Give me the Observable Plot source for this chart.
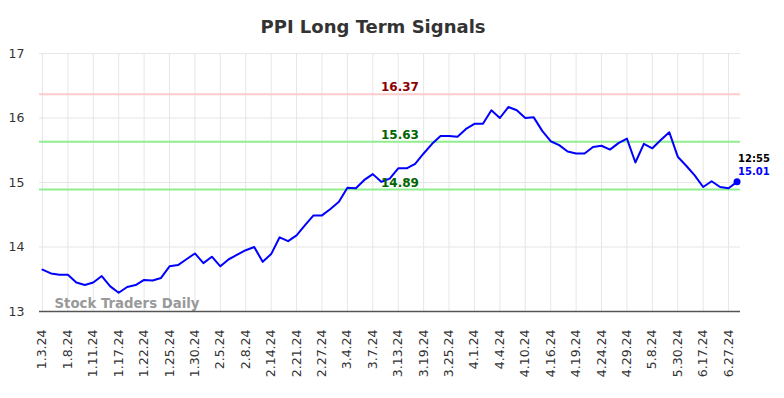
<!DOCTYPE html>
<html>
<head>
<meta charset="utf-8">
<script src="https://cdn.jsdelivr.net/npm/d3@7"></script>
<script src="https://cdn.jsdelivr.net/npm/@observablehq/plot@0.6"></script>
<style>
  html, body { margin: 0; padding: 0; background: #fff; }
</style>
</head>
<body>
<div id="chart"></div>
<script>
const title = "PPI Long Term Signals";
const watermark = "Stock Traders Daily";
const dateLabels = ["1.3.24","1.8.24","1.11.24","1.17.24","1.22.24","1.25.24","1.30.24","2.5.24","2.8.24","2.14.24","2.21.24","2.27.24","3.4.24","3.7.24","3.13.24","3.19.24","3.25.24","4.1.24","4.4.24","4.10.24","4.16.24","4.19.24","4.24.24","4.29.24","5.8.24","5.30.24","6.17.24","6.27.24"];
const prices = [13.65,13.59,13.57,13.57,13.45,13.41,13.45,13.55,13.39,13.29,
  13.38,13.41,13.49,13.48,13.52,13.70,13.72,13.81,13.90,13.75,
  13.85,13.70,13.81,13.88,13.95,14.00,13.77,13.89,14.15,14.09,
  14.18,14.34,14.49,14.49,14.59,14.70,14.92,14.91,15.04,15.13,
  15.01,15.06,15.22,15.22,15.29,15.45,15.60,15.72,15.72,15.71,
  15.83,15.91,15.91,16.12,16.00,16.17,16.12,16.00,16.01,15.80,
  15.64,15.58,15.48,15.45,15.45,15.55,15.57,15.51,15.61,15.68,
  15.31,15.60,15.53,15.66,15.78,15.40,15.26,15.11,14.93,15.02,
  14.93,14.91,15.01];
const yTicks = [13, 14, 15, 16, 17];
const levels = [16.37, 15.63, 14.89];
const levelLineColors = ["#ffcccc", "#90ee90", "#90ee90"];
const levelTextColors = ["#8b0000", "#006400", "#006400"];
const lastTime = "12:55";

const series = prices.map((v, i) => ({i, v}));
const tickIdx = dateLabels.map((d, k) => k * 3);
const last = series[series.length - 1];

const chart = Plot.plot({
  width: 784,
  height: 398,
  marginTop: 53,
  marginBottom: 87,
  marginLeft: 39,
  marginRight: 44,
  style: {fontFamily: "DejaVu Sans", fontSize: "12px", color: "#333", background: "#fff"},
  x: {domain: [-0.35, 82.41]},
  y: {domain: [13, 17]},
  marks: [
    Plot.ruleY(yTicks, {stroke: "#e6e6e6", strokeWidth: 1}),
    Plot.ruleX(tickIdx, {stroke: "#e6e6e6", strokeWidth: 1}),
    Plot.axisY({ticks: yTicks, tickSize: 0, tickPadding: 15, fontSize: 12.5, tickFormat: d => String(d), label: null}),
    Plot.axisX({ticks: tickIdx, tickSize: 0, tickPadding: 18, tickRotate: -90, fontSize: 12.5, tickFormat: i => dateLabels[i / 3], label: null}),
    Plot.ruleY(levels, {y: d => d, stroke: (d, k) => levelLineColors[k], strokeWidth: 2}),
    Plot.text([watermark], {text: d => d, frameAnchor: "bottom-left", dx: 15, dy: -4, lineAnchor: "bottom", textAnchor: "start", fontSize: 13.3, fontWeight: "bold", fill: "#999"}),
    Plot.ruleY([13], {stroke: "#555", strokeWidth: 1.5}),
    Plot.line(series, {x: "i", y: "v", stroke: "#0000ff", strokeWidth: 2}),
    Plot.text(levels, {x: 42.2, y: d => d, text: d => d.toFixed(2), fill: (d, k) => levelTextColors[k], fontWeight: "bold", fontSize: 12, lineAnchor: "bottom", dy: -3}),
    Plot.dot([last], {x: "i", y: "v", r: 3.5, fill: "#0000ff"}),
    Plot.text([last], {x: "i", y: "v", text: () => lastTime, dx: 1, dy: -20, textAnchor: "start", lineAnchor: "bottom", fontSize: 10, fontWeight: "bold", fill: "#000"}),
    Plot.text([last], {x: "i", y: "v", text: d => d.v.toFixed(2), dx: 1, dy: -6.5, textAnchor: "start", lineAnchor: "bottom", fontSize: 10, fontWeight: "bold", fill: "#0000ff"}),
    Plot.text([title], {text: d => d, frameAnchor: "top", dx: -17, dy: -20.5, lineAnchor: "bottom", fontSize: 18, fontWeight: "bold", fill: "#333"})
  ]
});
document.getElementById("chart").appendChild(chart);
</script>
</body>
</html>
